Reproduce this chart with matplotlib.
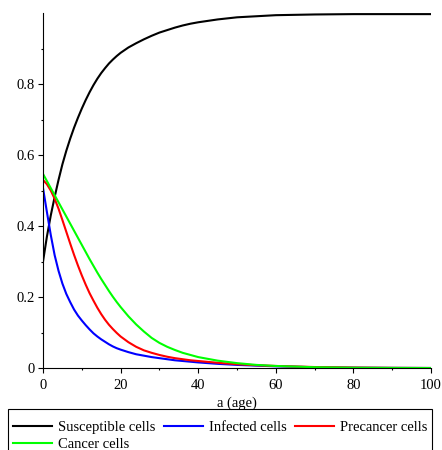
import matplotlib
matplotlib.use("Agg")
import matplotlib.pyplot as plt
from matplotlib.patches import Rectangle
from matplotlib.ticker import MultipleLocator, FixedLocator

plt.rcParams['font.family'] = ['Liberation Serif', 'DejaVu Serif']

age = [0, 1, 2, 3, 4, 5, 6, 7, 8, 9, 10, 11, 12, 13, 14, 15, 16, 17, 18, 19,
       20, 22, 24, 26, 28, 30, 32, 34, 36, 38, 40, 45, 50, 55, 60, 70, 80,
       90, 100]

susceptible = [0.30, 0.37, 0.43, 0.482, 0.53, 0.574, 0.612, 0.646, 0.677,
               0.705, 0.731, 0.755, 0.777, 0.797, 0.815, 0.831, 0.845, 0.858,
               0.869, 0.879, 0.888, 0.903, 0.915, 0.926, 0.936, 0.945, 0.952,
               0.959, 0.965, 0.970, 0.974, 0.982, 0.988, 0.991, 0.994, 0.996,
               0.997, 0.997, 0.997]
infected = [0.507, 0.44, 0.375, 0.318, 0.274, 0.238, 0.209, 0.186, 0.165,
            0.148, 0.134, 0.121, 0.109, 0.098, 0.089, 0.081, 0.074, 0.067,
            0.061, 0.056, 0.052, 0.045, 0.039, 0.035, 0.031, 0.028, 0.025,
            0.022, 0.020, 0.018, 0.016, 0.012, 0.009, 0.007, 0.005, 0.0025,
            0.0012, 0.0006, 0.0003]
precancer = [0.53, 0.518, 0.500, 0.477, 0.449, 0.417, 0.384, 0.351, 0.319,
             0.289, 0.261, 0.235, 0.211, 0.190, 0.170, 0.152, 0.136, 0.122,
             0.110, 0.099, 0.089, 0.073, 0.060, 0.050, 0.043, 0.037, 0.032,
             0.028, 0.025, 0.022, 0.020, 0.015, 0.011, 0.008, 0.006, 0.003,
             0.0015, 0.0007, 0.0003]
cancer = [0.547, 0.527, 0.507, 0.487, 0.467, 0.447, 0.427, 0.407, 0.387,
          0.367, 0.347, 0.327, 0.307, 0.288, 0.269, 0.251, 0.234, 0.217,
          0.201, 0.186, 0.172, 0.146, 0.123, 0.103, 0.085, 0.071, 0.060,
          0.051, 0.043, 0.037, 0.031, 0.021, 0.014, 0.009, 0.006, 0.0025,
          0.001, 0.0005, 0.0002]

labels = ["Susceptible cells", "Infected cells", "Precancer cells",
          "Cancer cells"]
colors = ["black", "#0000ff", "#ff0000", "#00ff00"]

fig = plt.figure(figsize=(4.42, 4.5), dpi=100)
ax = fig.add_axes([0.0973, 0.182, 0.878, 0.789])

lines = []
for y, lab, c in zip([susceptible, infected, precancer, cancer], labels, colors):
    ln, = ax.plot(age, y, color=c, lw=1.5, label=lab)
    lines.append(ln)

ax.set_xlim(0, 100)
ax.set_ylim(0, 1.0)
ax.spines['top'].set_visible(False)
ax.spines['right'].set_visible(False)
for s in ('left', 'bottom'):
    ax.spines[s].set_linewidth(0.8)

ax.xaxis.set_major_locator(MultipleLocator(20))
ax.xaxis.set_minor_locator(MultipleLocator(10))
ax.yaxis.set_major_locator(FixedLocator([0, 0.2, 0.4, 0.6, 0.8]))
ax.yaxis.set_minor_locator(FixedLocator([0.1, 0.3, 0.5, 0.7, 0.9]))
ax.set_yticklabels(["0", "0.2", "0.4", "0.6", "0.8"])
ax.tick_params(which='major', length=3.5, width=0.8, labelsize=10.5)
ax.tick_params(which='minor', length=1.5, width=0.8)
ax.tick_params(axis='x', pad=4)
ax.tick_params(axis='y', pad=2.5)
ax.set_xlabel("a (age)", fontsize=10.5, labelpad=3.5)

# order so that rows read S, I, P / C
order = [0, 3, 1, 2]
leg = fig.legend([lines[i] for i in order], [labels[i] for i in order],
                 loc='upper center', bbox_to_anchor=(0.498, 0.0756), ncol=3,
                 fontsize=10.5, frameon=False, handlelength=2.7,
                 handletextpad=0.4, columnspacing=0.55, labelspacing=0.22,
                 borderpad=0.35, borderaxespad=0)

# legend box runs off the bottom edge like in the original
fig.patches.append(Rectangle((8 / 442, -0.02), 424 / 442, 41 / 450 + 0.02,
                             transform=fig.transFigure, fill=False,
                             edgecolor='black', linewidth=0.8))

fig.savefig("out.png", dpi=100)
